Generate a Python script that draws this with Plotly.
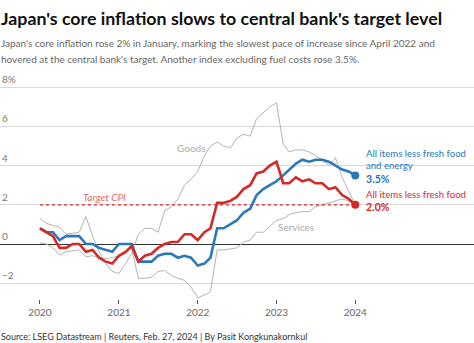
import plotly.graph_objects as go
import pandas as pd

# ---- data (monthly, Jan 2020 .. Jan 2024), y/y % ----
months = pd.date_range("2020-01-01", "2024-01-01", freq="MS")

core = [0.8, 0.6, 0.4, -0.2, -0.2, 0.0, 0.0, -0.4, -0.3, -0.7, -0.9, -1.0,
        -0.6, -0.4, -0.1, -0.9, -0.6, -0.5, -0.2, 0.0, 0.1, 0.1, 0.5, 0.5,
        0.2, 0.6, 0.8, 2.1, 2.1, 2.2, 2.4, 2.8, 3.0, 3.6, 3.7, 4.0,
        4.2, 3.1, 3.1, 3.4, 3.2, 3.3, 3.1, 3.1, 2.8, 2.9, 2.5, 2.3,
        2.0]
core_core = [0.8, 0.6, 0.6, 0.2, 0.4, 0.4, 0.4, 0.0, 0.0, -0.2, -0.3, -0.4,
             0.0, 0.0, 0.0, -0.9, -0.9, -0.9, -0.6, -0.5, -0.5, -0.7, -0.6, -0.7,
             -1.1, -1.0, -0.7, 0.8, 0.8, 1.0, 1.2, 1.6, 1.8, 2.5, 2.8, 3.0,
             3.2, 3.5, 3.8, 4.1, 4.3, 4.2, 4.3, 4.3, 4.2, 4.0, 3.8, 3.7,
             3.5]
goods = [1.3, 1.05, 0.95, 0.85, 0.5, 0.55, 0.6, 1.4, 0.4, -0.4, -1.0, -1.4,
         -1.5, -1.0, -0.5, 0.5, 0.8, 0.8, 0.6, 1.7, 1.9, 2.3, 3.0, 3.3,
         3.7, 4.5, 5.0, 5.2, 5.0, 4.9, 5.4, 5.6, 5.5, 6.4, 6.7, 7.0,
         7.2, 5.1, 4.7, 4.8, 4.8, 4.7, 4.5, 4.3, 4.0, 4.4, 3.4, 2.7,
         2.0]
services = [0.05, 0.0, -0.2, -0.55, -0.4, -0.35, -0.3, -0.65, -0.6, -0.7, -0.75, -0.7,
            -0.6, -0.4, -0.2, -1.75, -1.75, -1.7, -1.4, -1.35, -1.6, -1.75, -1.85, -2.2,
            -2.75, -2.6, -2.45, -0.3, -0.3, -0.25, -0.2, 0.1, 0.2, 0.6, 0.6, 0.9,
            1.2, 1.3, 1.5, 1.6, 1.65, 1.65, 1.9, 2.0, 2.1, 2.2, 2.3, 2.2,
            2.1]
target = 2.0
ytick_vals = [-2, 0, 2, 4, 6, 8]
ytick_text = ["\u22122", "0", "2", "4", "6", "8%"]
xtick_vals = ["2020-01-01", "2021-01-01", "2022-01-01", "2023-01-01", "2024-01-01"]

BLUE = "#2b78b8"
RED = "#d42a27"
GREY = "#b4b4b4"
FONT = "Lato"

# plot area in pixels: top 75, bottom 299
TOP, BOT = 75, 299
def py(y):
    return (BOT - y) / (BOT - TOP)

fig = go.Figure()
fig.add_trace(go.Scatter(x=months, y=goods, mode="lines",
                         line=dict(color=GREY, width=1), hoverinfo="skip"))
fig.add_trace(go.Scatter(x=months, y=services, mode="lines",
                         line=dict(color=GREY, width=1), hoverinfo="skip"))
fig.add_trace(go.Scatter(x=[months[0], months[-1]], y=[target, target], mode="lines",
                         line=dict(color=RED, width=1.3, dash="dot")))
fig.add_trace(go.Scatter(x=months, y=core_core, mode="lines",
                         line=dict(color=BLUE, width=2.6)))
fig.add_trace(go.Scatter(x=months, y=core, mode="lines",
                         line=dict(color=RED, width=2.6)))
fig.add_trace(go.Scatter(x=[months[-1]], y=[core_core[-1]], mode="markers",
                         marker=dict(color=BLUE, size=8)))
fig.add_trace(go.Scatter(x=[months[-1]], y=[core[-1]], mode="markers",
                         marker=dict(color=RED, size=8)))

def txt(text, x, y, size, color, xanchor="left", family=FONT):
    return dict(text=text, xref="paper", yref="paper", x=x / 474, y=py(y),
                xanchor=xanchor, yanchor="middle", showarrow=False, borderpad=0,
                font=dict(family=family, size=size, color=color))

ann = []
ann.append(txt("<b>Japan's core inflation slows to central bank's target level</b>", 0, 18, 17.8, "#111"))
ann.append(txt("Japan's core inflation rose 2% in January, marking the slowest pace of increase since April 2022 and",
               0, 43, 10, "#666"))
ann.append(txt("hovered at the central bank's target. Another index excluding fuel costs rose 3.5%.",
               0, 59, 10, "#666"))
ann.append(txt("Source: LSEG Datastream | Reuters, Feb. 27, 2024 | By Pasit Kongkunakornkul", 0, 336, 9, "#333"))
for v, t in zip(ytick_vals, ytick_text):
    ann.append(dict(text=t, xref="paper", yref="y", x=0, y=v, xanchor="left", yanchor="bottom",
                    yshift=0, showarrow=False, font=dict(family=FONT, size=10, color="#777")))
ann.append(txt("<i>Target CPI</i>", 104, 197, 10, "#e06a6a", xanchor="center"))
ann.append(txt("Goods", 191, 148, 10, "#aaa", xanchor="center"))
ann.append(txt("Services", 296, 227, 10, "#aaa", xanchor="center"))
ann.append(txt("All items less fresh food", 365, 153, 9.6, BLUE))
ann.append(txt("and energy", 365, 165.6, 9.6, BLUE))
ann.append(txt("<b>3.5%</b>", 365, 178.8, 10.6, BLUE))
ann.append(txt("All items less fresh food", 365, 194, 9.6, RED))
ann.append(txt("<b>2.0%</b>", 365, 207.2, 10.6, RED))

fig.update_layout(
    width=474, height=343,
    margin=dict(l=0, r=0, t=TOP, b=343 - BOT),
    paper_bgcolor="white", plot_bgcolor="white",
    showlegend=False,
    annotations=ann,
    xaxis=dict(type="date", range=["2019-06-30", "2025-07-04"],
               tickvals=xtick_vals, tickformat="%Y",
               ticks="outside", ticklen=4, tickcolor="#555", tickwidth=1,
               showgrid=False, zeroline=False, showline=False,
               tickfont=dict(family=FONT, size=10, color="#666")),
    yaxis=dict(range=[(244 - BOT) / 19.6, (244 - TOP) / 19.6],
               tickvals=ytick_vals, showticklabels=False,
               showgrid=True, gridcolor="#d9d9d9", gridwidth=1,
               zeroline=True, zerolinecolor="#333", zerolinewidth=1),
)

fig.write_html("out.html")
